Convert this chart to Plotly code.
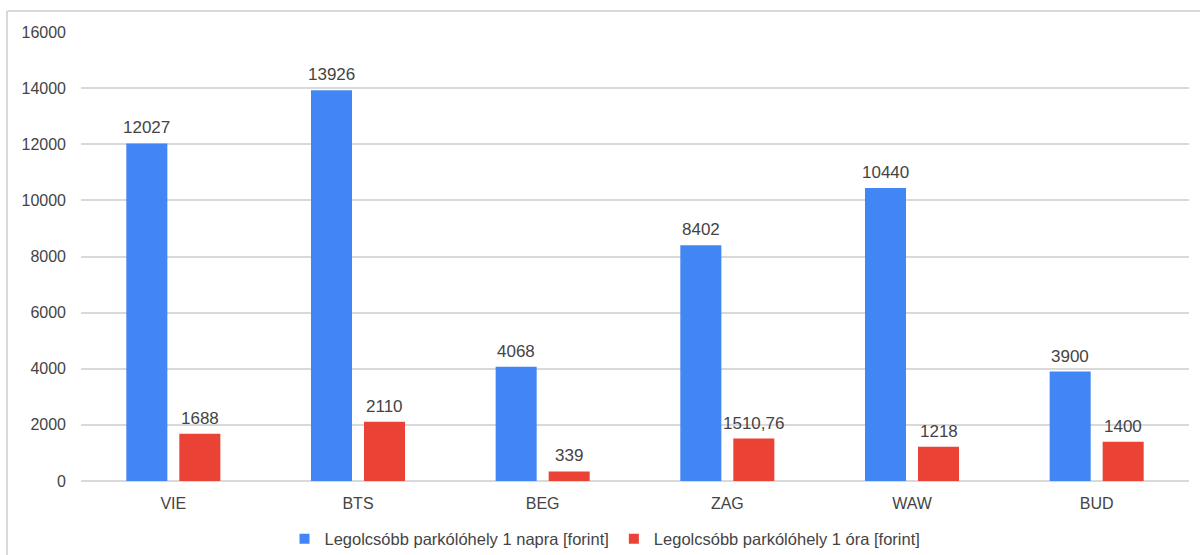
import plotly.graph_objects as go

# Airport codes and parking prices in forint
airports = ["VIE", "BTS", "BEG", "ZAG", "WAW", "BUD"]
per_day = [12027, 13926, 4068, 8402, 10440, 3900]
per_hour = [1688, 2110, 339, 1510.76, 1218, 1400]
series_names = [
    "Legolcsóbb parkólóhely 1 napra [forint]",
    "Legolcsóbb parkólóhely 1 óra [forint]",
]
y_ticks = [0, 2000, 4000, 6000, 8000, 10000, 12000, 14000, 16000]

BLUE = "#4285F4"
RED = "#EA4335"
TEXT = "#444444"
GRID = "#d9d9d9"
FONT = "Liberation Sans, Arial, sans-serif"


def fmt(v):
    # Hungarian decimal comma
    return f"{v:g}".replace(".", ",")


fig = go.Figure()
for vals, color, name in ((per_day, BLUE, series_names[0]), (per_hour, RED, series_names[1])):
    fig.add_trace(go.Bar(
        x=airports, y=vals, marker=dict(color=color, line=dict(width=0)),
        name=name, showlegend=False,
    ))
    # small square legend entries
    fig.add_trace(go.Scatter(
        x=[None], y=[None], mode="markers", name=name,
        marker=dict(symbol="square", size=10, color=color),
    ))

# value labels above each bar
for vals, shift in ((per_day, -26.5), (per_hour, 26.5)):
    for cat, v in zip(airports, vals):
        fig.add_annotation(
            x=cat, y=v, text=fmt(v), showarrow=False, xshift=shift,
            yanchor="bottom", yshift=4,
            font=dict(family=FONT, size=17, color=TEXT),
        )

fig.update_layout(
    width=1200, height=555,
    margin=dict(l=81, r=11, t=32, b=74, autoexpand=False),
    paper_bgcolor="white", plot_bgcolor="white",
    font=dict(family=FONT, size=16, color=TEXT),
    barmode="group", bargap=0.426, bargroupgap=0.226,
    showlegend=True,
    legend=dict(
        orientation="h", x=(605 - 81) / 1108, xanchor="center",
        y=(481 - 539) / 449, yanchor="middle",
        font=dict(family=FONT, size=16.5, color=TEXT),
        itemwidth=30, tracegroupgap=0,
    ),
    xaxis=dict(
        showgrid=False, showline=False, ticks="",
        tickfont=dict(size=16, color=TEXT), ticklabelstandoff=11,
    ),
    yaxis=dict(
        range=[0, 16000], tickvals=y_ticks, ticktext=[str(t) for t in y_ticks],
        showgrid=True, gridcolor=GRID,
        gridwidth=2, zeroline=True, zerolinecolor=GRID, zerolinewidth=2,
        showline=False, ticks="", ticklabelstandoff=14,
        tickfont=dict(size=16, color=TEXT),
    ),
    shapes=[
        # chart frame (top and left edges)
        dict(type="line", xref="paper", yref="paper",
             x0=(7 - 81) / 1108, x1=(1200 - 81) / 1108,
             y0=(481 - 11) / 449, y1=(481 - 11) / 449,
             line=dict(color=GRID, width=2)),
        dict(type="line", xref="paper", yref="paper",
             x0=(7 - 81) / 1108, x1=(7 - 81) / 1108,
             y0=(481 - 11) / 449, y1=(481 - 560) / 449,
             line=dict(color=GRID, width=2)),
    ],
)

fig.write_html("out.html")
